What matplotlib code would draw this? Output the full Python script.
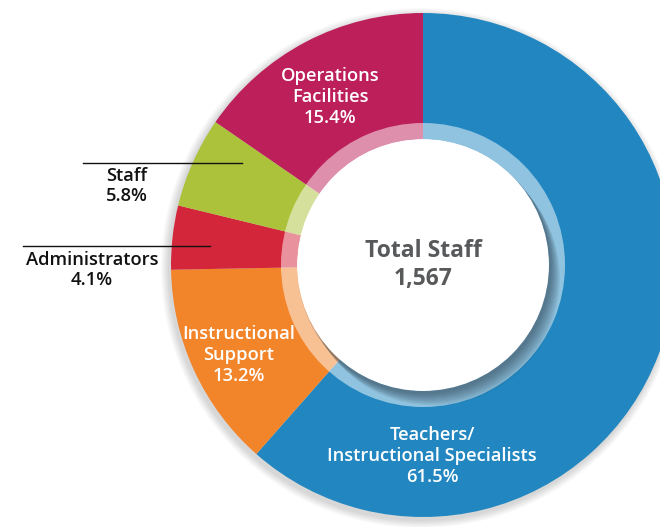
import matplotlib.pyplot as plt
from matplotlib.patches import Circle, Wedge

# data
categories = ['Teachers/\nInstructional Specialists', 'Instructional\nSupport',
              'Administrators', 'Staff', 'Operations\nFacilities']
shares = [61.5, 13.2, 4.1, 5.8, 15.4]
colors = ['#2287c0', '#f2842a', '#d4263b', '#abc23a', '#bc1f5a']
total_staff = 1567

plt.rcParams['font.family'] = ['Open Sans', 'DejaVu Sans']

W, H = 660, 527
fig = plt.figure(figsize=(W / 100, H / 100), dpi=100)
ax = fig.add_axes([0, 0, 1, 1])

cx, cy = 423, H - 265
R = 252
r_in = 126
r_ring = 142

wedges, _ = ax.pie(shares, colors=colors, startangle=90, counterclock=False,
                   center=(cx, cy), radius=R, frame=True,
                   wedgeprops=dict(linewidth=0))
ax.set_xlim(0, W)
ax.set_ylim(0, H)
ax.set_aspect('equal')
ax.axis('off')
for w in wedges:
    w.set_zorder(1)

# soft drop shadow behind the donut
for i in range(8):
    ax.add_patch(Circle((cx - 2, cy - 3), R + 1 + i, color='#000000',
                        alpha=0.018, lw=0, zorder=0))

# translucent inner ring
ax.add_patch(Wedge((cx, cy), r_ring, 0, 360, width=r_ring - r_in,
                   facecolor='white', alpha=0.5, lw=0, zorder=2))

# shadow of the centre disc, toward lower right
for i in range(14):
    ax.add_patch(Circle((cx + 1 + i * 0.7, cy - 2 - i * 0.9), r_in + 1,
                        color='#1b2b3a', alpha=0.045, lw=0, zorder=3))
ax.add_patch(Circle((cx, cy), r_in, color='white', lw=0, zorder=4))

# slice labels
lbl = dict(ha='center', va='center', fontsize=13.2, linespacing=1.2,
           fontweight='semibold', zorder=5)
ax.text(432, H - 456, f'{categories[0]}\n{shares[0]}%', color='white', **lbl)
ax.text(239, H - 355, f'{categories[1]}\n{shares[1]}%', color='white', **lbl)
ax.text(330, H - 97, f'{categories[4]}\n{shares[4]}%', color='white', **lbl)
ax.text(127, H - 186, f'{categories[3]}\n{shares[3]}%', color='#111111', **lbl)
ax.text(92, H - 270, f'{categories[2]}\n{shares[2]}%', color='#111111', **lbl)

ax.text(cx, cy, f'Total Staff\n{total_staff:,}', ha='center', va='center',
        fontsize=16.5, linespacing=1.25, color='#58595b',
        fontweight='bold', zorder=5)

# leader lines
ax.plot([83, 242], [H - 163, H - 163], color='#111111', lw=1, zorder=5)
ax.plot([23, 210], [H - 246, H - 246], color='#111111', lw=1, zorder=5)

fig.savefig('out.png', dpi=100)
